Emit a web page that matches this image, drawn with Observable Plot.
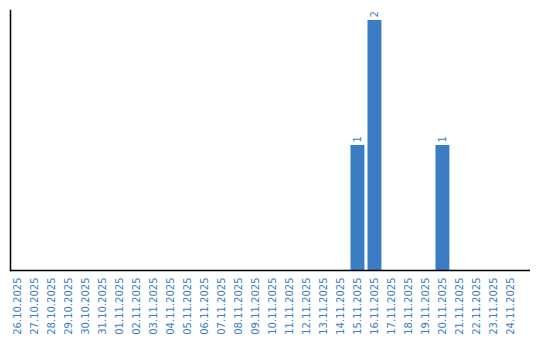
<!DOCTYPE html>
<html>
<head>
<meta charset="utf-8">
<script src="https://cdn.jsdelivr.net/npm/d3@7"></script>
<script src="https://cdn.jsdelivr.net/npm/@observablehq/plot@0.6"></script>
<style>
  html, body { margin: 0; padding: 0; background: #fff; }
  #chart svg { display: block; }
</style>
</head>
<body>
<div id="chart"></div>
<script>
const dates = [
  "26.10.2025","27.10.2025","28.10.2025","29.10.2025","30.10.2025","31.10.2025",
  "01.11.2025","02.11.2025","03.11.2025","04.11.2025","05.11.2025","06.11.2025",
  "07.11.2025","08.11.2025","09.11.2025","10.11.2025","11.11.2025","12.11.2025",
  "13.11.2025","14.11.2025","15.11.2025","16.11.2025","17.11.2025","18.11.2025",
  "19.11.2025","20.11.2025","21.11.2025","22.11.2025","23.11.2025","24.11.2025"
];
const counts = [0,0,0,0,0,0, 0,0,0,0,0,0, 0,0,0,0,0,0, 0,0,1,2,0,0, 0,1,0,0,0,0];

const data = dates.map((d, i) => ({date: d, count: counts[i]}));
const nonzero = data.filter(d => d.count > 0);

const blue = "#3b7dc4";

const chart = Plot.plot({
  width: 540,
  height: 340,
  marginTop: 10,
  marginBottom: 70,
  marginLeft: 10,
  marginRight: 10,
  style: {fontFamily: "DejaVu Sans", fontSize: "10px", background: "#fff"},
  x: {domain: dates, paddingInner: 0.18, paddingOuter: 0.385, align: 0, round: false, label: null},
  y: {domain: [0, 2.08], axis: null},
  marks: [
    Plot.barY(data, {x: "date", y: "count", fill: blue, inset: 0, insetLeft: 0.5, insetRight: -0.5}),
    Plot.text(nonzero, {x: "date", y: "count", text: d => String(d.count), rotate: -90, textAnchor: "start", dx: 0.5, dy: -3, fill: blue, fontSize: 10, fontFamily: "DejaVu Sans"}),
    Plot.axisX({tickRotate: -90, tickSize: 0, tickPadding: 7, color: blue, fontSize: 10, fontFamily: "DejaVu Sans", label: null}),
    Plot.ruleY([0], {stroke: "#000", strokeWidth: 1.5}),
    Plot.frame({anchor: "left", stroke: "#000", strokeWidth: 1.5})
  ]
});
document.getElementById("chart").appendChild(chart);
</script>
</body>
</html>
